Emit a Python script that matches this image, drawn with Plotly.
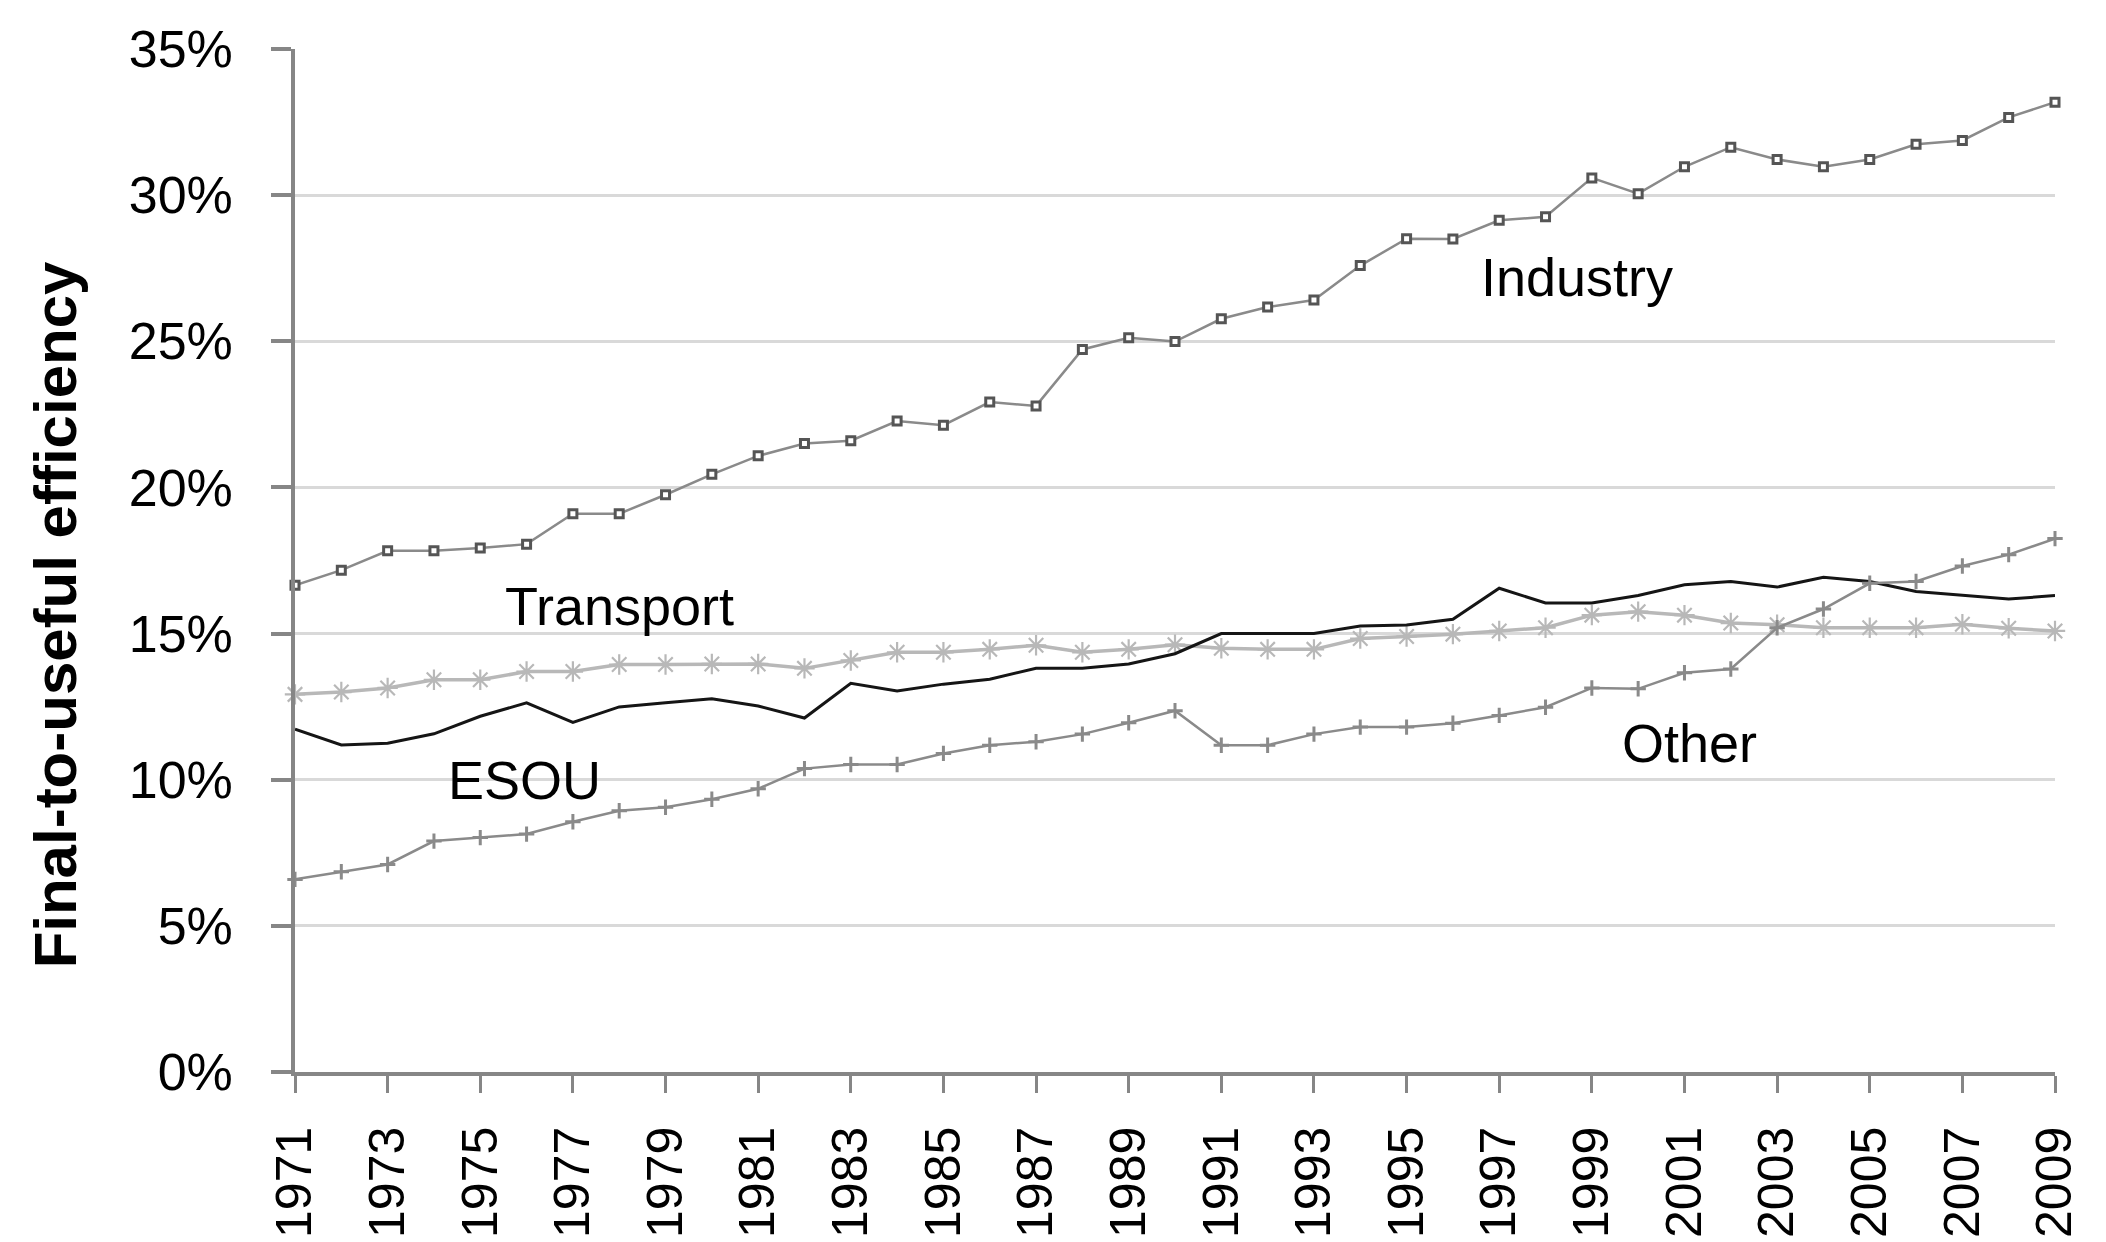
import plotly.graph_objects as go

years = list(range(1971, 2010))

industry = [16.65, 17.17, 17.83, 17.83, 17.93, 18.06, 19.1, 19.1, 19.75, 20.45,
            21.08, 21.5, 21.6, 22.27, 22.13, 22.92, 22.79, 24.72, 25.12, 24.99,
            25.77, 26.17, 26.41, 27.59, 28.51, 28.5, 29.14, 29.26, 30.59, 30.05,
            30.97, 31.64, 31.22, 30.97, 31.22, 31.74, 31.87, 32.66, 33.18]

transport = [12.92, 13.0, 13.14, 13.42, 13.42, 13.7, 13.7, 13.94, 13.94, 13.96,
             13.96, 13.81, 14.08, 14.36, 14.36, 14.46, 14.6, 14.36, 14.46, 14.62,
             14.5, 14.46, 14.46, 14.83, 14.9, 14.98, 15.09, 15.2, 15.63, 15.75,
             15.63, 15.36, 15.3, 15.2, 15.2, 15.2, 15.32, 15.18, 15.09]

esou = [11.73, 11.19, 11.25, 11.57, 12.17, 12.63, 11.96, 12.49, 12.63, 12.77,
        12.52, 12.11, 13.3, 13.04, 13.27, 13.44, 13.81, 13.81, 13.96, 14.31,
        15.0, 15.0, 15.0, 15.26, 15.29, 15.49, 16.55, 16.05, 16.05, 16.3,
        16.67, 16.78, 16.59, 16.93, 16.78, 16.44, 16.3, 16.18, 16.3]

other = [6.59, 6.85, 7.1, 7.9, 8.02, 8.14, 8.56, 8.94, 9.06, 9.33,
         9.69, 10.38, 10.52, 10.52, 10.9, 11.18, 11.3, 11.56, 11.95, 12.36,
         11.18, 11.18, 11.56, 11.8, 11.8, 11.93, 12.2, 12.48, 13.14, 13.11,
         13.66, 13.79, 15.2, 15.84, 16.72, 16.78, 17.31, 17.7, 18.25]

y_tickvals = [0, 5, 10, 15, 20, 25, 30, 35]
y_ticktext = ["0%", "5%", "10%", "15%", "20%", "25%", "30%", "35%"]
x_tickvals = list(range(1971, 2010, 2))
x_ticktext = [str(y) for y in x_tickvals]

FONT = "Liberation Sans, Arial, sans-serif"
AXIS = "#868686"

fig = go.Figure()

fig.add_trace(go.Scatter(
    x=years, y=industry, name="Industry", mode="lines+markers",
    line=dict(color="#8a8a8a", width=2.5),
    marker=dict(symbol="square", size=8, color="white",
                line=dict(color="#555555", width=3)),
    cliponaxis=False))

fig.add_trace(go.Scatter(
    x=years, y=transport, name="Transport", mode="lines+markers",
    line=dict(color="#b8b8b8", width=3.5),
    marker=dict(symbol="asterisk-open", size=17,
                line=dict(color="#6e6e6e", width=2.2)),
    cliponaxis=False))

fig.add_trace(go.Scatter(
    x=years, y=esou, name="ESOU", mode="lines",
    line=dict(color="#151515", width=3),
    cliponaxis=False))

fig.add_trace(go.Scatter(
    x=years, y=other, name="Other", mode="lines+markers",
    line=dict(color="#8a8a8a", width=2.5),
    marker=dict(symbol="cross-thin-open", size=11,
                line=dict(color="#555555", width=3)),
    cliponaxis=False))

labels = [("Industry", 1998.68, 27.2), ("Transport", 1978.0, 15.95),
          ("ESOU", 1975.95, 10.0), ("Other", 2001.1, 11.25)]
for txt, lx, ly in labels:
    fig.add_annotation(x=lx, y=ly, xref="x", yref="y", text=txt, showarrow=False,
                       font=dict(family=FONT, size=54, color="black"),
                       xanchor="center", yanchor="middle")

fig.add_annotation(x=-0.136, y=0.447, xref="paper", yref="paper",
                   text="<b>Final-to-useful efficiency</b>", showarrow=False,
                   textangle=-90, xanchor="center", yanchor="middle",
                   font=dict(family=FONT, size=60, color="black"))

fig.update_layout(
    width=2106, height=1242,
    margin=dict(l=287, r=59, t=39, b=176),
    paper_bgcolor="white", plot_bgcolor="white",
    showlegend=False,
    font=dict(family=FONT, color="black"),
    xaxis=dict(range=[1971, 2009], tickvals=x_tickvals, ticktext=x_ticktext,
               tickangle=-90, tickfont=dict(size=50, family=FONT, color="black"),
               ticks="outside", ticklen=17, tickwidth=3, tickcolor=AXIS,
               showline=True, linecolor=AXIS, linewidth=3.5,
               showgrid=False, zeroline=False, ticklabelstandoff=14),
    yaxis=dict(range=[0, 35], tickvals=y_tickvals, ticktext=y_ticktext,
               tickfont=dict(size=52, family=FONT, color="black"),
               ticks="outside", ticklen=20, tickwidth=3.5, tickcolor=AXIS,
               showline=True, linecolor=AXIS, linewidth=3.5,
               showgrid=True, gridcolor="#d9d9d9", gridwidth=2.5,
               zeroline=False, ticklabelstandoff=28),
)

fig.write_html("out.html")
